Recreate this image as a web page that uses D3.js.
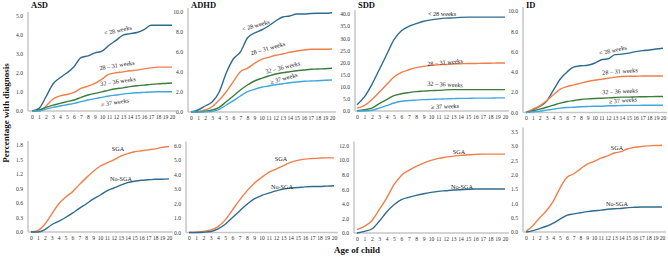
<!DOCTYPE html>
<html>
<head>
<meta charset="utf-8">
<script src="https://cdn.jsdelivr.net/npm/d3@7"></script>
<style>
  body { margin: 0; background: #fff; }
  svg { display: block; font-family: "Liberation Serif", "Times New Roman", serif; }
  .tick text { fill: #333; }
</style>
</head>
<body>
<div id="chart"></div>
<script>
// age of child (years)
const years = [0, 1, 2, 3, 4, 5, 6, 7, 8, 9, 10, 11, 12, 13, 14, 15, 16, 17, 18, 19, 20];

const gestLabels = ["< 28 weeks", "28 – 31 weeks", "32 – 36 weeks", "≥ 37 weeks"];
const sgaLabels = ["SGA", "No-SGA"];

// y tick values per panel
const asdTicks = [0, 1, 2, 3, 4, 5];
const adhdTicks = [0, 2, 4, 6, 8, 10];
const sddTicks = [0, 5, 10, 15, 20, 25, 30, 35, 40];
const idTicks = [0, 2, 4, 6, 8, 10];
const asdSgaTicks = [0, 0.3, 0.6, 0.9, 1.2, 1.5, 1.8];
const adhdSgaTicks = [0, 1, 2, 3, 4, 5, 6];
const sddSgaTicks = [0, 2, 4, 6, 8, 10, 12];
const idSgaTicks = [0, 0.5, 1, 1.5, 2, 2.5, 3, 3.5];

// gestational age groups: < 28, 28-31, 32-36, >= 37
const asdGest = [
  [0, 0.14, 0.75, 1.42, 1.75, 2.01, 2.33, 2.81, 2.90, 3.06, 3.15, 3.46, 3.72, 3.99, 4.07, 4.13, 4.28, 4.51, 4.51, 4.51, 4.51],
  [0, 0, 0.26, 0.63, 0.80, 0.87, 0.98, 1.19, 1.31, 1.45, 1.68, 1.94, 2.01, 2.06, 2.12, 2.15, 2.22, 2.27, 2.31, 2.31, 2.31],
  [0, 0.05, 0.19, 0.31, 0.40, 0.49, 0.58, 0.72, 0.84, 0.93, 1.01, 1.10, 1.17, 1.22, 1.28, 1.33, 1.36, 1.40, 1.43, 1.45, 1.47],
  [0, 0, 0.10, 0.19, 0.26, 0.33, 0.40, 0.49, 0.58, 0.65, 0.72, 0.79, 0.84, 0.89, 0.93, 0.96, 0.98, 1.00, 1.01, 1.01, 1.01]
];
const adhdGest = [
  [0, 0.2, 0.6, 1.0, 2.0, 3.9, 5.3, 6.0, 7.4, 7.9, 8.2, 8.6, 9.1, 9.5, 9.6, 9.8, 9.8, 9.85, 9.87, 9.87, 9.93],
  [0, 0.03, 0.2, 0.53, 1.2, 2.03, 3.03, 4.03, 4.37, 4.87, 5.27, 5.47, 5.67, 5.8, 5.97, 6.1, 6.2, 6.27, 6.27, 6.27, 6.3],
  [0, 0.02, 0.07, 0.2, 0.47, 1.03, 1.6, 2.2, 2.7, 3.1, 3.37, 3.6, 3.8, 3.93, 4.03, 4.13, 4.2, 4.27, 4.3, 4.33, 4.37],
  [0, 0, 0.02, 0.07, 0.27, 0.7, 1.13, 1.6, 2.03, 2.27, 2.47, 2.6, 2.73, 2.83, 2.93, 3.0, 3.07, 3.1, 3.13, 3.17, 3.2]
];
const sddGest = [
  [2.6, 5.8, 10.9, 17.0, 23.2, 29.4, 33.1, 34.9, 36.0, 37.0, 37.6, 38.0, 38.3, 38.4, 38.6, 38.7, 38.7, 38.7, 38.7, 38.7, 38.7],
  [1.2, 2.2, 4.7, 7.7, 10.9, 14.0, 15.9, 17.0, 17.9, 18.4, 18.8, 19.1, 19.2, 19.4, 19.5, 19.6, 19.6, 19.7, 19.7, 19.8, 19.8],
  [0.1, 0.5, 1.2, 3.0, 4.7, 6.3, 7.1, 7.6, 8.0, 8.2, 8.4, 8.5, 8.7, 8.8, 8.8, 8.8, 8.8, 8.8, 8.8, 8.8, 8.8],
  [0, 0, 0.3, 1.2, 2.2, 3.3, 4.0, 4.3, 4.5, 4.7, 4.8, 4.9, 5.0, 5.1, 5.2, 5.2, 5.3, 5.3, 5.3, 5.4, 5.4]
];
const idGest = [
  [0, 0.26, 0.6, 1.1, 2.2, 3.3, 4.0, 4.5, 4.6, 4.65, 4.85, 5.2, 5.3, 5.7, 5.75, 5.85, 6.0, 6.1, 6.16, 6.26, 6.33],
  [0, 0.33, 0.66, 1.15, 1.74, 2.3, 2.56, 2.72, 2.89, 3.05, 3.18, 3.28, 3.38, 3.48, 3.54, 3.57, 3.57, 3.6, 3.6, 3.6, 3.6],
  [0, 0.16, 0.33, 0.52, 0.72, 0.92, 1.08, 1.18, 1.28, 1.34, 1.38, 1.41, 1.44, 1.48, 1.51, 1.51, 1.54, 1.55, 1.56, 1.57, 1.57],
  [0, 0.07, 0.13, 0.23, 0.33, 0.43, 0.49, 0.52, 0.56, 0.59, 0.62, 0.62, 0.66, 0.66, 0.69, 0.7, 0.7, 0.71, 0.71, 0.72, 0.72]
];

// small for gestational age vs not
const asdSga = [
  [0, 0.03, 0.16, 0.37, 0.58, 0.72, 0.83, 0.98, 1.12, 1.25, 1.36, 1.43, 1.49, 1.57, 1.62, 1.66, 1.68, 1.70, 1.72, 1.75, 1.77],
  [0, 0, 0.05, 0.15, 0.22, 0.30, 0.39, 0.49, 0.58, 0.68, 0.76, 0.85, 0.91, 0.97, 1.02, 1.05, 1.07, 1.08, 1.09, 1.09, 1.10]
];
const adhdSga = [
  [0, 0.02, 0.07, 0.18, 0.41, 0.87, 1.56, 2.25, 2.87, 3.40, 3.79, 4.14, 4.37, 4.60, 4.83, 4.97, 5.06, 5.10, 5.13, 5.15, 5.15],
  [0, 0, 0.02, 0.07, 0.25, 0.57, 1.03, 1.49, 1.95, 2.32, 2.55, 2.71, 2.87, 2.99, 3.06, 3.10, 3.15, 3.17, 3.17, 3.20, 3.22]
];
const sddSga = [
  [0.46, 0.91, 1.69, 3.20, 4.79, 6.62, 7.90, 8.58, 9.13, 9.59, 9.95, 10.23, 10.41, 10.55, 10.64, 10.73, 10.78, 10.82, 10.82, 10.82, 10.82],
  [0, 0.23, 0.55, 1.60, 2.88, 3.88, 4.57, 4.89, 5.16, 5.39, 5.57, 5.71, 5.80, 5.89, 5.94, 5.98, 6.03, 6.03, 6.03, 6.03, 6.03]
];
const idSga = [
  [0.02, 0.22, 0.49, 0.74, 1.07, 1.53, 1.90, 2.02, 2.20, 2.36, 2.46, 2.57, 2.65, 2.75, 2.80, 2.90, 2.95, 2.98, 3.00, 3.01, 3.02],
  [0, 0.05, 0.12, 0.20, 0.31, 0.45, 0.58, 0.63, 0.67, 0.71, 0.74, 0.76, 0.79, 0.81, 0.82, 0.85, 0.86, 0.87, 0.87, 0.87, 0.87]
];

// colours
const gestColors = ["#2f6b8f", "#f07f4a", "#3b7d3b", "#40a6de"];
const sgaColors = ["#f07f4a", "#2f6b8f"];

const W = 668, H = 257;
const svg = d3.select("#chart").append("svg")
  .attr("width", W)
  .attr("height", H);

// layout of each small panel (pixel positions), label spots [x, y, angle]
const panels = [
  { title: "ASD", series: asdGest, names: gestLabels, colors: gestColors, ticks: asdTicks,
    ax: 28, x0: 32, x1: 172, yb: 111, yt: 16,
    notes: [[118, 31, -12], [117, 66, -9], [118, 82, -8], [115, 103, -8]] },
  { title: "ADHD", series: adhdGest, names: gestLabels, colors: gestColors, ticks: adhdTicks,
    ax: 188, x0: 191, x1: 332, yb: 112, yt: 12,
    notes: [[256, 26, -16], [268, 49, -16], [283, 68, -14], [284, 79, -16]] },
  { title: "SDD", series: sddGest, names: gestLabels, colors: gestColors, ticks: sddTicks,
    ax: 355, x0: 357, x1: 505, yb: 111, yt: 14,
    notes: [[442, 15, 0], [445, 63, -5], [445, 85, 3], [445, 107, -2]] },
  { title: "ID", series: idGest, names: gestLabels, colors: gestColors, ticks: idTicks,
    ax: 523, x0: 526, x1: 663, yb: 112.5, yt: 11,
    notes: [[613, 51, -12], [620, 72, -4], [620, 92, -3], [623, 101, -5]] },
  { title: "", series: asdSga, names: sgaLabels, colors: sgaColors, ticks: asdSgaTicks,
    ax: 28, x0: 31, x1: 169, yb: 232, yt: 145,
    notes: [[118, 150, 0], [121, 180, 0]] },
  { title: "", series: adhdSga, names: sgaLabels, colors: sgaColors, ticks: adhdSgaTicks,
    ax: 186, x0: 189, x1: 334, yb: 232.5, yt: 145.5,
    notes: [[281, 160, 0], [282, 188, 0]] },
  { title: "", series: sddSga, names: sgaLabels, colors: sgaColors, ticks: sddSgaTicks,
    ax: 354, x0: 357, x1: 505, yb: 233, yt: 145.5,
    notes: [[459, 153, 0], [462, 188, 0]] },
  { title: "", series: idSga, names: sgaLabels, colors: sgaColors, ticks: idSgaTicks,
    ax: 523, x0: 526, x1: 662, yb: 232, yt: 131.5,
    notes: [[617, 149, 0], [617, 205, 0]] }
];

const fmt = d3.format(".1f");

panels.forEach(p => {
  const g = svg.append("g");

  const x = d3.scaleLinear()
    .domain([years[0], years[years.length - 1]])
    .range([p.x0, p.x1]);
  const y = d3.scaleLinear()
    .domain([0, p.ticks[p.ticks.length - 1]])
    .range([p.yb, p.yt]);

  // axis lines (light grey)
  g.append("line")
    .attr("x1", p.ax).attr("x2", p.ax)
    .attr("y1", p.yt - 4).attr("y2", p.yb)
    .attr("stroke", "#c6c6c6").attr("stroke-width", 1.5);
  g.append("line")
    .attr("x1", p.ax).attr("x2", p.x1 + 4)
    .attr("y1", p.yb).attr("y2", p.yb)
    .attr("stroke", "#c6c6c6").attr("stroke-width", 1.5);

  // y tick labels
  const yAxis = g.append("g")
    .attr("transform", `translate(${p.ax},0)`)
    .call(d3.axisLeft(y).tickValues(p.ticks).tickFormat(fmt).tickSize(0).tickPadding(5));
  yAxis.select(".domain").remove();
  yAxis.selectAll("text")
    .style("font-size", "5.6px")
    .style("font-family", "Liberation Serif, serif");

  // x tick labels
  const xAxis = g.append("g")
    .attr("transform", `translate(0,${p.yb})`)
    .call(d3.axisBottom(x).tickValues(years).tickFormat(d3.format("d")).tickSize(0).tickPadding(4));
  xAxis.select(".domain").remove();
  xAxis.selectAll("text")
    .style("font-size", "5.6px")
    .style("font-family", "Liberation Serif, serif");

  // lines
  const line = d3.line()
    .x((d, i) => x(years[i]))
    .y(d => y(d))
    .curve(d3.curveMonotoneX);

  p.series.forEach((s, i) => {
    g.append("path")
      .datum(s)
      .attr("fill", "none")
      .attr("stroke", p.colors[i])
      .attr("stroke-width", 1.4)
      .attr("d", line);
  });

  // series labels on the lines
  p.names.forEach((name, i) => {
    const [nx, ny, a] = p.notes[i];
    g.append("text")
      .attr("transform", `translate(${nx},${ny}) rotate(${a})`)
      .attr("text-anchor", "middle")
      .attr("dominant-baseline", "middle")
      .style("font-size", "6.2px")
      .attr("fill", "#222")
      .text(name);
  });

  // panel title
  if (p.title) {
    g.append("text")
      .attr("x", p.ax + 3)
      .attr("y", 8)
      .style("font-size", "8.5px")
      .style("font-weight", "bold")
      .attr("fill", "#111")
      .text(p.title);
  }
});

// overall axis titles
svg.append("text")
  .attr("transform", "translate(9,113) rotate(-90)")
  .attr("text-anchor", "middle")
  .style("font-size", "9px")
  .style("font-weight", "bold")
  .attr("fill", "#111")
  .text("Percentage with diagnosis");

svg.append("text")
  .attr("x", 357)
  .attr("y", 253)
  .attr("text-anchor", "middle")
  .style("font-size", "9px")
  .style("font-weight", "bold")
  .attr("fill", "#111")
  .text("Age of child");
</script>
</body>
</html>
